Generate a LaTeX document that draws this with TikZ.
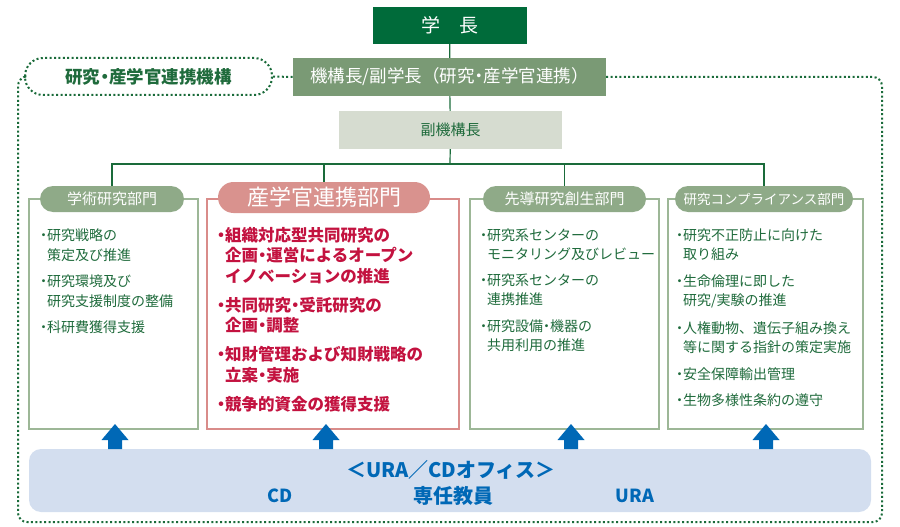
\documentclass[tikz,border=0pt]{standalone}
\usepackage{fontspec}
\setmainfont{Noto Sans CJK JP}
\usetikzlibrary{calc}

\definecolor{deanGreen}{HTML}{006B3A}
\definecolor{headGreen}{HTML}{7A9A75}
\definecolor{viceGray}{HTML}{D6DCD0}
\definecolor{tabGreen}{HTML}{8FAA88}
\definecolor{lineGreen}{HTML}{1A6B3A}
\definecolor{frameGreen}{HTML}{9DB797}
\definecolor{textGreen}{HTML}{1F6B3C}
\definecolor{tabPink}{HTML}{D9928E}
\definecolor{framePink}{HTML}{D98C8A}
\definecolor{textRed}{HTML}{C3123F}
\definecolor{arrowBlue}{HTML}{0068B6}
\definecolor{bandBlue}{HTML}{D3DEEF}

\newcommand{\fsz}[1]{\fontsize{#1}{#1}\selectfont}
\newcommand{\itemdot}{\llap{・\kern-0.25em}}
\newcommand{\nk}{\kern-0.25em・\kern-0.25em}

\tikzstyle{every node}=[inner sep=0pt]
\tikzstyle{box}=[rectangle,inner sep=0pt,text=white]
\tikzstyle{tab}=[rectangle,rounded corners=13pt,fill=tabGreen,text=white,minimum height=26pt,font=\fsz{15}]
\tikzstyle{dept}=[draw=frameGreen,line width=1.3pt,fill=white]
\tikzstyle{bullets}=[anchor=north west,align=left,text=textGreen,font=\fontsize{14}{19.5}\selectfont]
\tikzstyle{connector}=[draw=lineGreen,line width=1.2pt]
\tikzstyle{dotline}=[draw=lineGreen,line width=2pt,dash pattern=on 2pt off 2.4pt]

\begin{document}
\begin{tikzpicture}[x=1pt,y=-1pt]
    \useasboundingbox (0,0) rectangle (900,527);

    % Top of the organisation
    \node[box,fill=deanGreen,minimum width=154pt,minimum height=37pt,font=\fsz{19}] (dean) at (450,25.5) {学\hspace{1em}長};
    \node[box,fill=headGreen,minimum width=313pt,minimum height=38pt,font=\fsz{17.5}] (head) at (449.5,77) {機構長/副学長（研究\nk 産学官連携）};
    \node[dotline,fill=white,rounded corners=18pt,minimum width=247pt,minimum height=37pt,text=textGreen,font=\bfseries\fsz{17.5}] (org) at (148.5,76.5) {研究\nk 産学官連携機構};
    \node[box,fill=viceGray,text=textGreen,minimum width=223pt,minimum height=38pt,font=\fsz{15}] (vice) at (450.5,130) {副機構長};

    % Dotted frame of the organisation
    \draw[dotline] (org.east) -- (head.west);
    \draw[dotline,rounded corners=9pt] (head.east) -| (882,522) -| (18,77) -- (org.west);

    % Department frames
    \node[dept,minimum width=169pt,minimum height=230pt] (f1) at (113.5,314) {};
    \node[dept,draw=framePink,line width=2.2pt,minimum width=252pt,minimum height=230pt] (f2) at (333,314) {};
    \node[dept,minimum width=189pt,minimum height=230pt] (f3) at (564.5,314) {};
    \node[dept,minimum width=195pt,minimum height=230pt] (f4) at (765.5,314) {};

    % Department tabs
    \node[tab,minimum width=144pt] (t1) at (112,199) {学術研究部門};
    \node[tab,fill=tabPink,rounded corners=15.5pt,minimum width=212pt,minimum height=31pt,font=\fsz{22}] (t2) at (324,197.5) {産学官連携部門};
    \node[tab,minimum width=163pt] (t3) at (564.5,199) {先導研究創生部門};
    \node[tab,minimum width=178pt,font=\fsz{13.5}] (t4) at (764,199) {研究コンプライアンス部門};

    % Connections
    \coordinate (bus) at (450,164);
    \draw[connector] (dean) -- (head) -- (vice) -- (bus);
    \draw[connector] (t1.north) |- (bus) -| (t4.north);
    \draw[connector] (t2.north) -- (t2.north |- bus);
    \draw[connector] (t3.north) -- (t3.north |- bus);

    % Tasks of each department
    \node[bullets] (l1) at (47,228.5) {\itemdot 研究戦略の\\策定及び推進\\[7pt]
        \itemdot 研究環境及び\\研究支援制度の整備\\[7pt]
        \itemdot 科研費獲得支援};
    \node[bullets,text=textRed,font=\bfseries\fontsize{16.5}{20.5}\selectfont] (l2) at (225,227) {\itemdot 組織対応型共同研究の\\企画\nk 運営によるオープン\\イノベーションの推進\\[8.5pt]
        \itemdot 共同研究\nk 受託研究の\\企画\nk 調整\\[8.5pt]
        \itemdot 知財管理および知財戦略の\\立案\nk 実施\\[9pt]
        \itemdot 競争的資金の獲得支援};
    \node[bullets] (l3) at (487,228.5) {\itemdot 研究系センターの\\モニタリング及びレビュー\\[6pt]
        \itemdot 研究系センターの\\連携推進\\[7pt]
        \itemdot 研究設備\nk 機器の\\共用利用の推進};
    \node[bullets] (l4) at (683,228.5) {\itemdot 研究不正防止に向けた\\取り組み\\[7pt]
        \itemdot 生命倫理に即した\\研究/実験の推進\\[8pt]
        \itemdot 人権動物、遺伝子組み換え\\等に関する指針の策定実施\\[7pt]
        \itemdot 安全保障輸出管理\\[7pt]
        \itemdot 生物多様性条約の遵守};

    % URA/CD office
    \node[fill=bandBlue,rounded corners=12pt,minimum width=842pt,minimum height=63pt] (ura) at (450,480.5) {};
    \node[text=arrowBlue,font=\bfseries\fsz{20}] (uratitle) at (451,470) {＜URA／CDオフィス＞};
    \node[text=arrowBlue,font=\bfseries\fsz{18}] (cd) at (280,496) {CD};
    \node[text=arrowBlue,font=\bfseries\fsz{20}] (staff) at (453,496) {専任教員};
    \node[text=arrowBlue,font=\bfseries\fsz{18}] (uraname) at (635,496) {URA};

    % Support arrows
    \foreach \ax in {115,326,571,766}
        \fill[arrowBlue] (\ax,449) ++(-7,0) -- ++(0,-9) -- ++(-6.5,0) -- ++(13.5,-16) -- ++(13.5,16) -- ++(-6.5,0) -- ++(0,9) -- cycle;
\end{tikzpicture}
\end{document}
